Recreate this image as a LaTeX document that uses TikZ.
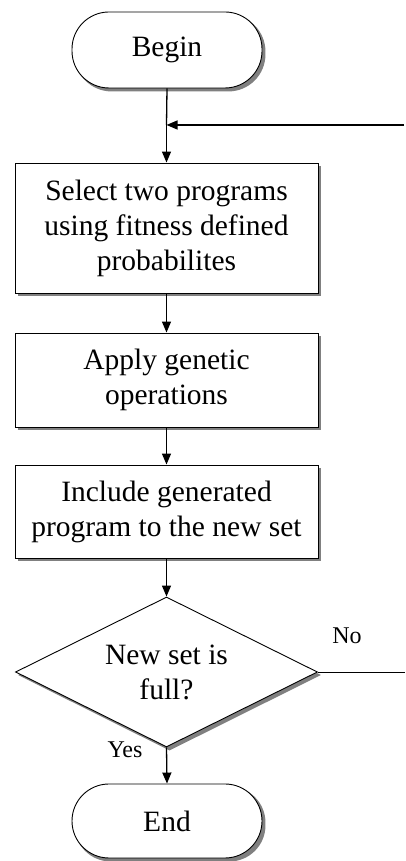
\documentclass[tikz,border=0pt]{standalone}
\usepackage{fontspec}
\setmainfont{Liberation Serif}
\usetikzlibrary{shapes.geometric,arrows.meta,backgrounds}
\begin{document}
\begin{tikzpicture}[x=1pt,y=1pt,
  proc/.style={draw,line width=0.9pt,fill=white,rectangle,minimum width=303pt,inner sep=0pt,align=center,font=\fontsize{29.5}{35}\selectfont},
  term/.style={draw,line width=0.9pt,fill=white,rectangle,rounded corners=37pt,minimum width=190pt,inner sep=0pt,align=center,font=\fontsize{29.5}{35}\selectfont},
  dec/.style={draw,line width=0.9pt,fill=white,diamond,aspect=2.01,minimum width=302pt,minimum height=150pt,inner sep=0pt,align=center,font=\fontsize{29.5}{35}\selectfont},
  shadowfill/.style={fill=black!50},
  arr/.style={line width=1.3pt,-{Triangle[length=11pt,width=9pt]}},
  lab/.style={font=\fontsize{24}{28}\selectfont,inner sep=0pt}]
\useasboundingbox (0,0) rectangle (405,861);
\node[term,minimum height=76pt] (begin) at (167,811) {Begin};
\node[proc,minimum height=130pt] (b1) at (166.5,633) {Select two programs\\using fitness defined\\probabilites};
\node[proc,minimum height=94pt] (b2) at (166.5,481) {Apply genetic\\operations};
\node[proc,minimum height=93pt] (b3) at (166.5,349.5) {Include generated\\program to the new set};
\node[dec] (d) at (166.5,189) {New set is\\full?};
\node[term,minimum height=74pt] (end) at (167,40) {End};
\begin{scope}[on background layer]
  \def\sh#1{([shift={(3pt,-3pt)}]#1)}
  \fill[shadowfill,rounded corners=37pt] \sh{begin.south west} rectangle \sh{begin.north east};
  \fill[shadowfill] \sh{b1.south west} rectangle \sh{b1.north east};
  \fill[shadowfill] \sh{b2.south west} rectangle \sh{b2.north east};
  \fill[shadowfill] \sh{b3.south west} rectangle \sh{b3.north east};
  \fill[shadowfill] \sh{d.north} -- \sh{d.east} -- \sh{d.south} -- \sh{d.west} -- cycle;
  \fill[shadowfill,rounded corners=36pt] \sh{end.south west} rectangle \sh{end.north east};
\end{scope}
\coordinate (j) at (166.5,736);
\coordinate (r) at (404,736);
\coordinate (nr) at (405,189);
\draw[line width=1.3pt] (begin.south) -- (j);
\draw[arr] (j) -- (b1.north);
\draw[arr] (r) -- (j);
\draw[arr] (b1) -- (b2);
\draw[arr] (b2) -- (b3);
\draw[arr] (b3) -- (d.north);
\draw[arr] (d.south) -- (end.north);
\draw[line width=0.9pt] (d.east) -- (nr);
\node[lab] (no) at (347,225) {No};
\node[lab] (yes) at (125,111) {Yes};
\end{tikzpicture}
\end{document}
